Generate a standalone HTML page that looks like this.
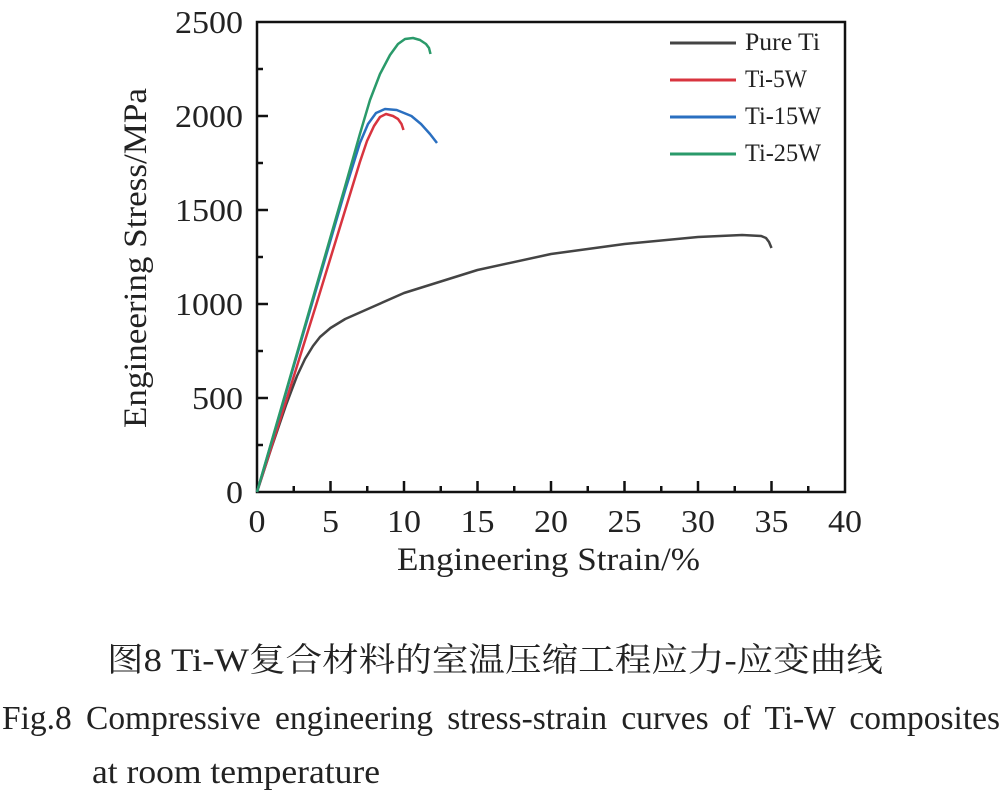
<!DOCTYPE html>
<html><head><meta charset="utf-8"><style>
body{margin:0;background:#fff;}
svg text{font-family:"Liberation Serif","Noto Serif CJK SC",serif;fill:#222;}
</style></head><body>
<svg width="1002" height="791" viewBox="0 0 1002 791" xmlns="http://www.w3.org/2000/svg">
<g stroke="#111" stroke-width="2.5" fill="none">
<rect x="257" y="22" width="588" height="470"/>
</g>
<g stroke="#111" stroke-width="2.5">
<line x1="330.5" y1="492" x2="330.5" y2="481"/><line x1="404" y1="492" x2="404" y2="481"/><line x1="477.5" y1="492" x2="477.5" y2="481"/><line x1="551" y1="492" x2="551" y2="481"/><line x1="624.5" y1="492" x2="624.5" y2="481"/><line x1="698" y1="492" x2="698" y2="481"/><line x1="771.5" y1="492" x2="771.5" y2="481"/>
<line x1="293.75" y1="492" x2="293.75" y2="486"/><line x1="367.25" y1="492" x2="367.25" y2="486"/><line x1="440.75" y1="492" x2="440.75" y2="486"/><line x1="514.25" y1="492" x2="514.25" y2="486"/><line x1="587.75" y1="492" x2="587.75" y2="486"/><line x1="661.25" y1="492" x2="661.25" y2="486"/><line x1="734.75" y1="492" x2="734.75" y2="486"/><line x1="808.25" y1="492" x2="808.25" y2="486"/>
<line x1="257" y1="398" x2="268" y2="398"/><line x1="257" y1="304" x2="268" y2="304"/><line x1="257" y1="210" x2="268" y2="210"/><line x1="257" y1="116" x2="268" y2="116"/>
<line x1="257" y1="445" x2="263" y2="445"/><line x1="257" y1="351" x2="263" y2="351"/><line x1="257" y1="257" x2="263" y2="257"/><line x1="257" y1="163" x2="263" y2="163"/><line x1="257" y1="69" x2="263" y2="69"/>
</g>
<g font-size="32" text-anchor="middle">
<text x="257" y="532" textLength="17" lengthAdjust="spacingAndGlyphs">0</text><text x="330.5" y="532" textLength="17" lengthAdjust="spacingAndGlyphs">5</text><text x="404" y="532" textLength="34" lengthAdjust="spacingAndGlyphs">10</text><text x="477.5" y="532" textLength="34" lengthAdjust="spacingAndGlyphs">15</text><text x="551" y="532" textLength="34" lengthAdjust="spacingAndGlyphs">20</text><text x="624.5" y="532" textLength="34" lengthAdjust="spacingAndGlyphs">25</text><text x="698" y="532" textLength="34" lengthAdjust="spacingAndGlyphs">30</text><text x="771.5" y="532" textLength="34" lengthAdjust="spacingAndGlyphs">35</text><text x="845" y="532" textLength="34" lengthAdjust="spacingAndGlyphs">40</text>
</g>
<g font-size="32" text-anchor="end">
<text x="243" y="503" textLength="17" lengthAdjust="spacingAndGlyphs">0</text><text x="243" y="409" textLength="51" lengthAdjust="spacingAndGlyphs">500</text><text x="243" y="315" textLength="68" lengthAdjust="spacingAndGlyphs">1000</text><text x="243" y="221" textLength="68" lengthAdjust="spacingAndGlyphs">1500</text><text x="243" y="127" textLength="68" lengthAdjust="spacingAndGlyphs">2000</text><text x="243" y="33" textLength="68" lengthAdjust="spacingAndGlyphs">2500</text>
</g>
<text x="397" y="570" font-size="33" textLength="303" lengthAdjust="spacingAndGlyphs">Engineering Strain/%</text>
<text transform="translate(146,428) rotate(-90)" font-size="33" textLength="340" lengthAdjust="spacingAndGlyphs">Engineering Stress/MPa</text>
<g fill="none" stroke-width="2.5" stroke-linejoin="round">
<polyline stroke="#444" points="257,492 271.7,447 286.4,404 297,376 305,359 313,346 320,337 330.5,328 345.2,319 374.6,306 404,293 477.5,270 551,254 624.5,244 698,237 742.1,235 761.2,236 766,238 769,242 771.5,248"/>
<polyline stroke="#d8343f" points="257,492 286.4,400 315.8,306 345.2,210 359.9,162 367,141 374,126 380,117 386,114 393,116 398,119 401.5,124 403.5,130"/>
<polyline stroke="#2a6fc0" points="257,492 345.2,190 359.9,143 368,124 376,113 385,109 396.7,110 411.4,116 421,124 430,134 437,143"/>
<polyline stroke="#2a9a6a" points="257,492 345.2,186 359.9,134 370,100 380,74 390,55 398,44 405,39 413,38 420,40 426,44 429,48 430.5,54"/>
</g>
<g stroke-width="3">
<line x1="670" y1="43" x2="736" y2="43" stroke="#444"/>
<line x1="670" y1="80" x2="736" y2="80" stroke="#d8343f"/>
<line x1="670" y1="117" x2="736" y2="117" stroke="#2a6fc0"/>
<line x1="670" y1="154" x2="736" y2="154" stroke="#2a9a6a"/>
</g>
<g font-size="25">
<text x="745" y="50" textLength="75" lengthAdjust="spacingAndGlyphs">Pure Ti</text><text x="745" y="87" textLength="62" lengthAdjust="spacingAndGlyphs">Ti-5W</text><text x="745" y="124" textLength="76" lengthAdjust="spacingAndGlyphs">Ti-15W</text><text x="745" y="161" textLength="76" lengthAdjust="spacingAndGlyphs">Ti-25W</text>
</g>
<text x="107" y="671" font-size="33" textLength="776" lengthAdjust="spacingAndGlyphs">图8  Ti-W复合材料的室温压缩工程应力-应变曲线</text>
<text x="2" y="729" font-size="34" word-spacing="6" textLength="998" lengthAdjust="spacingAndGlyphs">Fig.8 Compressive engineering stress-strain curves of Ti-W composites</text>
<text x="92" y="783" font-size="34" textLength="288" lengthAdjust="spacingAndGlyphs">at room temperature</text>
</svg>
</body></html>
